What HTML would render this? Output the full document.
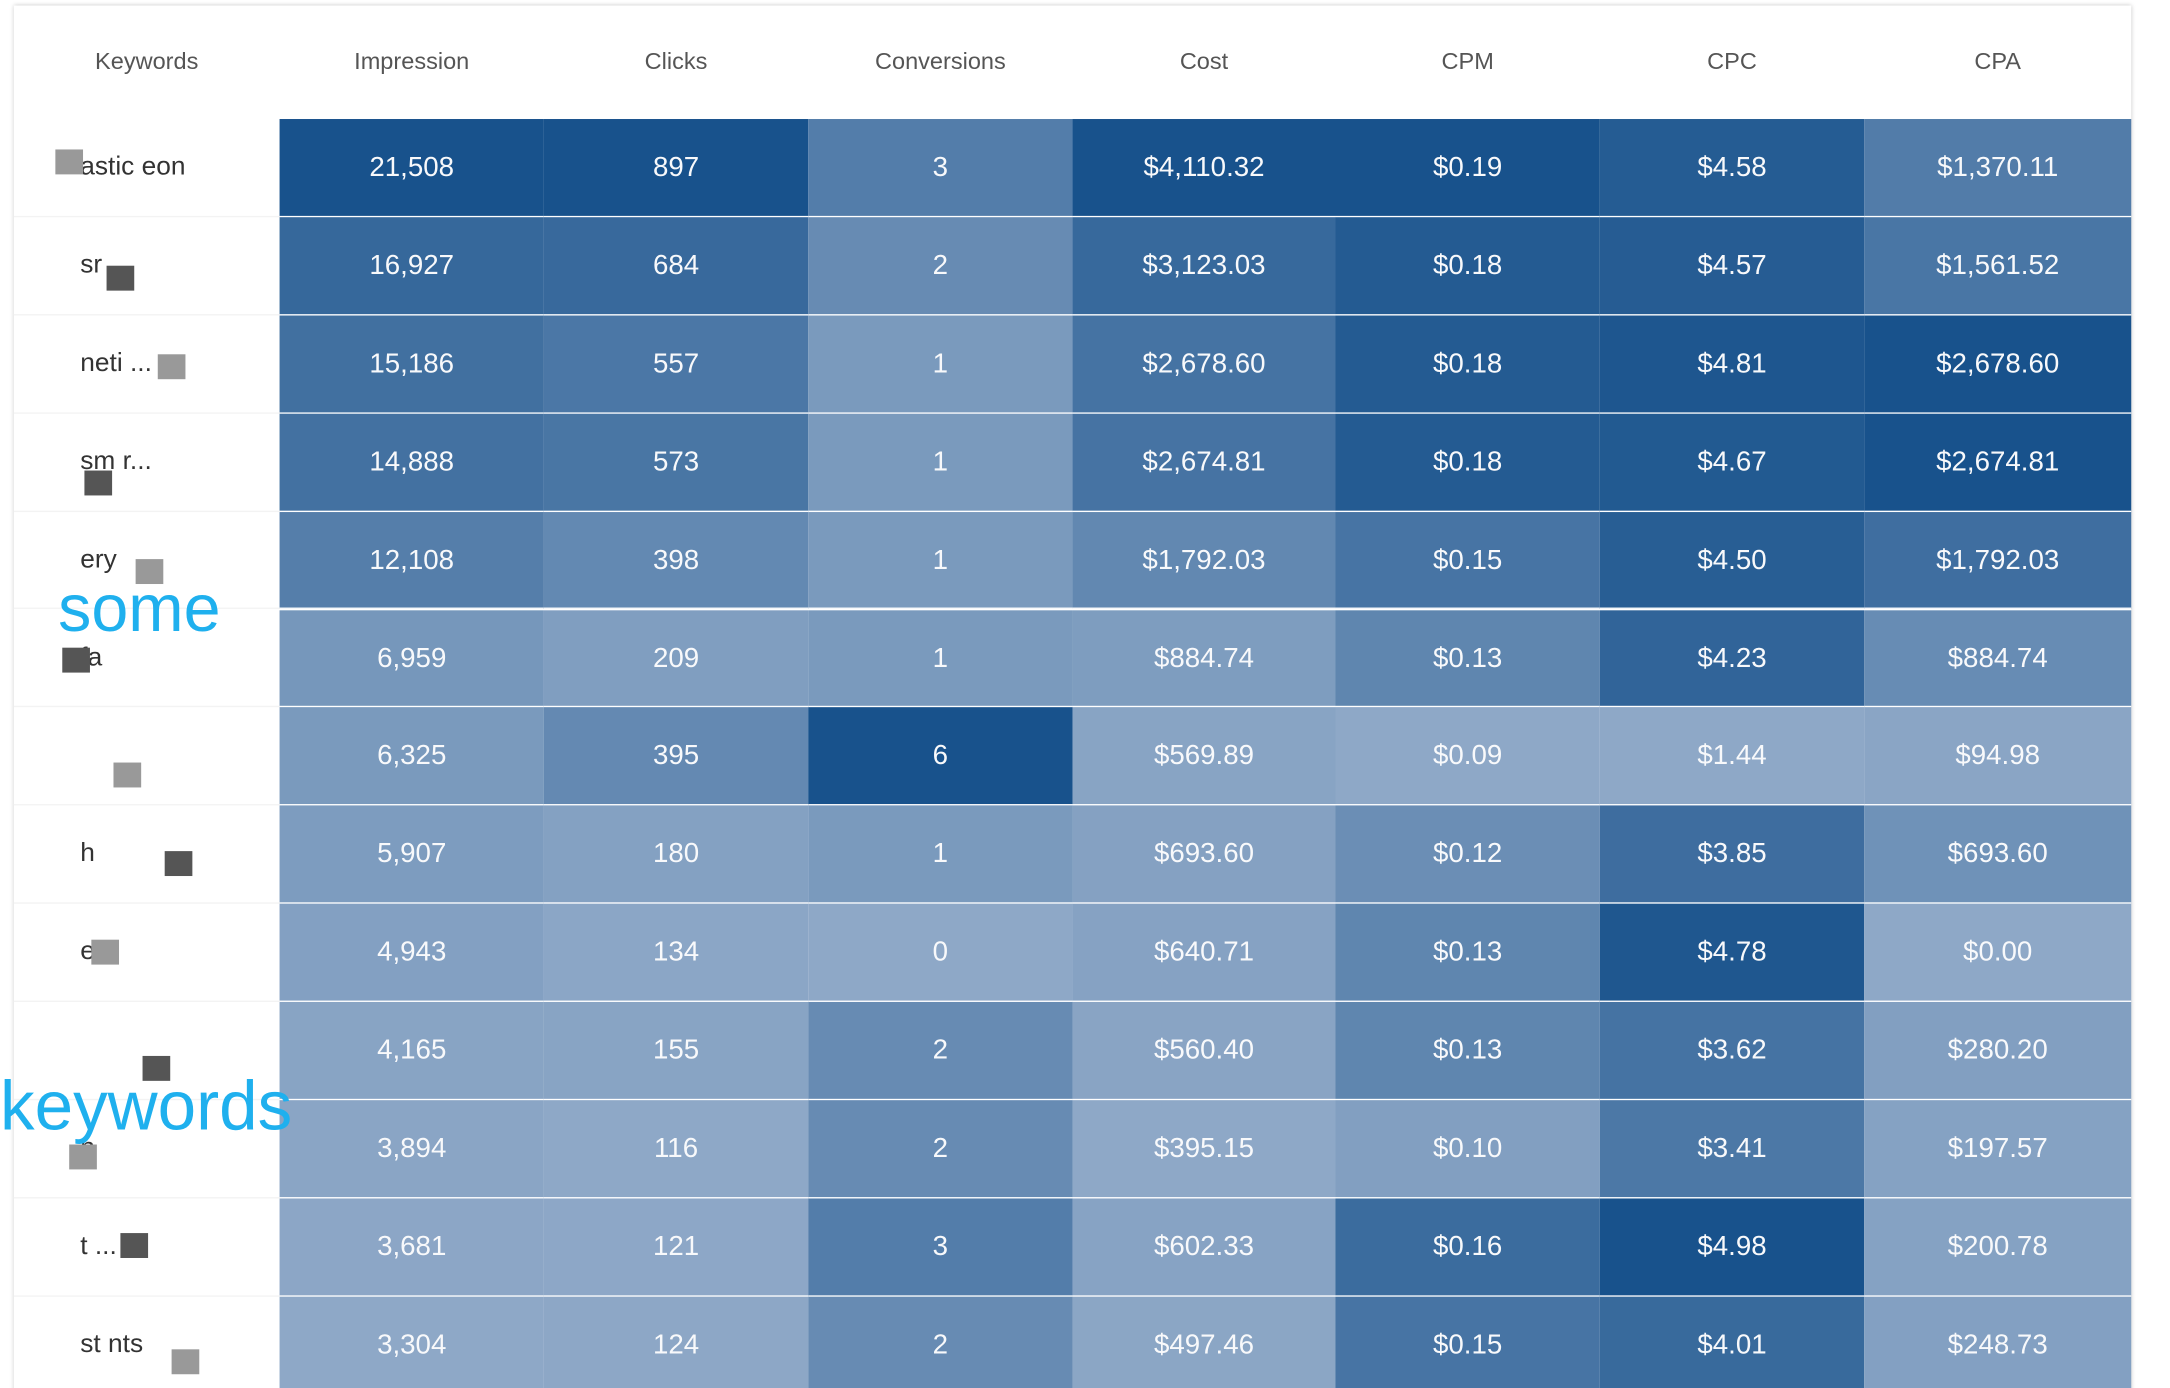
<!DOCTYPE html>
<html><head><meta charset="utf-8">
<style>
html,body{margin:0;padding:0;background:#fff;overflow:hidden}
#wrap{width:1568px;height:1003px;transform:scale(1.38393);transform-origin:0 0;position:relative;font-family:"Liberation Sans",sans-serif}
#tbl{position:absolute;left:10px;top:4px;width:1530px;height:1010px;box-shadow:0 0 3px rgba(0,0,0,0.25);background:#fff}
.h{position:absolute;top:0;height:82px;line-height:82px;text-align:center;color:#555;font-size:17px}
.c{position:absolute;text-align:center;color:#f8f9fb;font-size:20px;box-sizing:border-box;border-bottom:1.5px solid #fff}
.kw{position:absolute;left:0;width:192px;box-sizing:border-box;border-bottom:1px solid #f3f3f3;color:#333;font-size:19px}
.blk{position:absolute;background:#777}
.big{position:absolute;color:#1fb0ee;font-size:49px;line-height:1}
</style></head>
<body>
<div id="wrap">
<div id="tbl"></div>
<div class="big" style="left:42px;top:417px;font-size:48px">some</div>
<div class="big" style="left:0px;top:774px;font-size:50px">keywords</div>
</div>
<script>
const headers=["Keywords","Impression","Clicks","Conversions","Cost","CPM","CPC","CPA"];
const impressions=[21508,16927,15186,14888,12108,6959,6325,5907,4943,4165,3894,3681,3304];
const clicks=[897,684,557,573,398,209,395,180,134,155,116,121,124];
const conversions=[3,2,1,1,1,1,6,1,0,2,2,3,2];
const cost=[4110.32,3123.03,2678.60,2674.81,1792.03,884.74,569.89,693.60,640.71,560.40,395.15,602.33,497.46];
const cpm=[0.19,0.18,0.18,0.18,0.15,0.13,0.09,0.12,0.13,0.13,0.10,0.16,0.15];
const cpc=[4.58,4.57,4.81,4.67,4.50,4.23,1.44,3.85,4.78,3.62,3.41,4.98,4.01];
const cpa=[1370.11,1561.52,2678.60,2674.81,1792.03,884.74,94.98,693.60,0.00,280.20,197.57,200.78,248.73];
const keywordLabels=["astic  eon","sr","neti ...","sm  r...","ery","fa","","h","e  e","","n","t ...","st  nts"];
const tbl=document.getElementById('tbl');
const colX=[0,192,383,574,765,955,1146,1337,1530];
const rowH=70.9, headH=82;
headers.forEach((h,i)=>{
  const d=document.createElement('div');d.className='h';
  d.style.left=colX[i]+'px';d.style.width=(colX[i+1]-colX[i])+'px';d.textContent=h;
  
  
  tbl.appendChild(d);
});
const cols=[impressions,clicks,conversions,cost,cpm,cpc,cpa];
const fmt=[v=>v.toLocaleString('en-US'),v=>v.toLocaleString('en-US'),v=>String(v),
 v=>'$'+v.toLocaleString('en-US',{minimumFractionDigits:2,maximumFractionDigits:2}),
 v=>'$'+v.toFixed(2),v=>'$'+v.toFixed(2),
 v=>'$'+v.toLocaleString('en-US',{minimumFractionDigits:2,maximumFractionDigits:2})];
const L=[142,168,199],D=[24,82,140];
function color(t){return 'rgb('+L.map((l,k)=>Math.round(l+(D[k]-l)*t)).join(',')+')';}
keywordLabels.forEach((k,r)=>{
  const d=document.createElement('div');d.className='kw';
  d.style.top=(headH+r*rowH)+'px';d.style.height=rowH+'px';
  
  
  const s=document.createElement('span');s.textContent=k;s.style.position='absolute';s.style.left='48px';s.style.top='24px';
  d.appendChild(s);
  const b=document.createElement('div');b.className='blk';
  b.style.left=(30+(r*37)%90)+'px';b.style.top=(22+(r*13)%20)+'px';b.style.width='20px';b.style.height='18px';
  b.style.background=r%2?'#555':'#999';
  d.appendChild(b);
  tbl.appendChild(d);
});
cols.forEach((arr,c)=>{
  const mn=Math.min(...arr),mx=Math.max(...arr);
  arr.forEach((v,r)=>{
    const d=document.createElement('div');d.className='c';
    const t=mx>mn?(v-mn)/(mx-mn):0;
    d.style.left=colX[c+1]+'px';d.style.width=(colX[c+2]-colX[c+1])+'px';
    d.style.top=(headH+r*rowH)+'px';d.style.height=rowH+'px';d.style.lineHeight=rowH+'px';
    d.style.background=color(t);
    d.textContent=fmt[c](v);
    
    
    tbl.appendChild(d);
  });
});
</script>
</body></html>
